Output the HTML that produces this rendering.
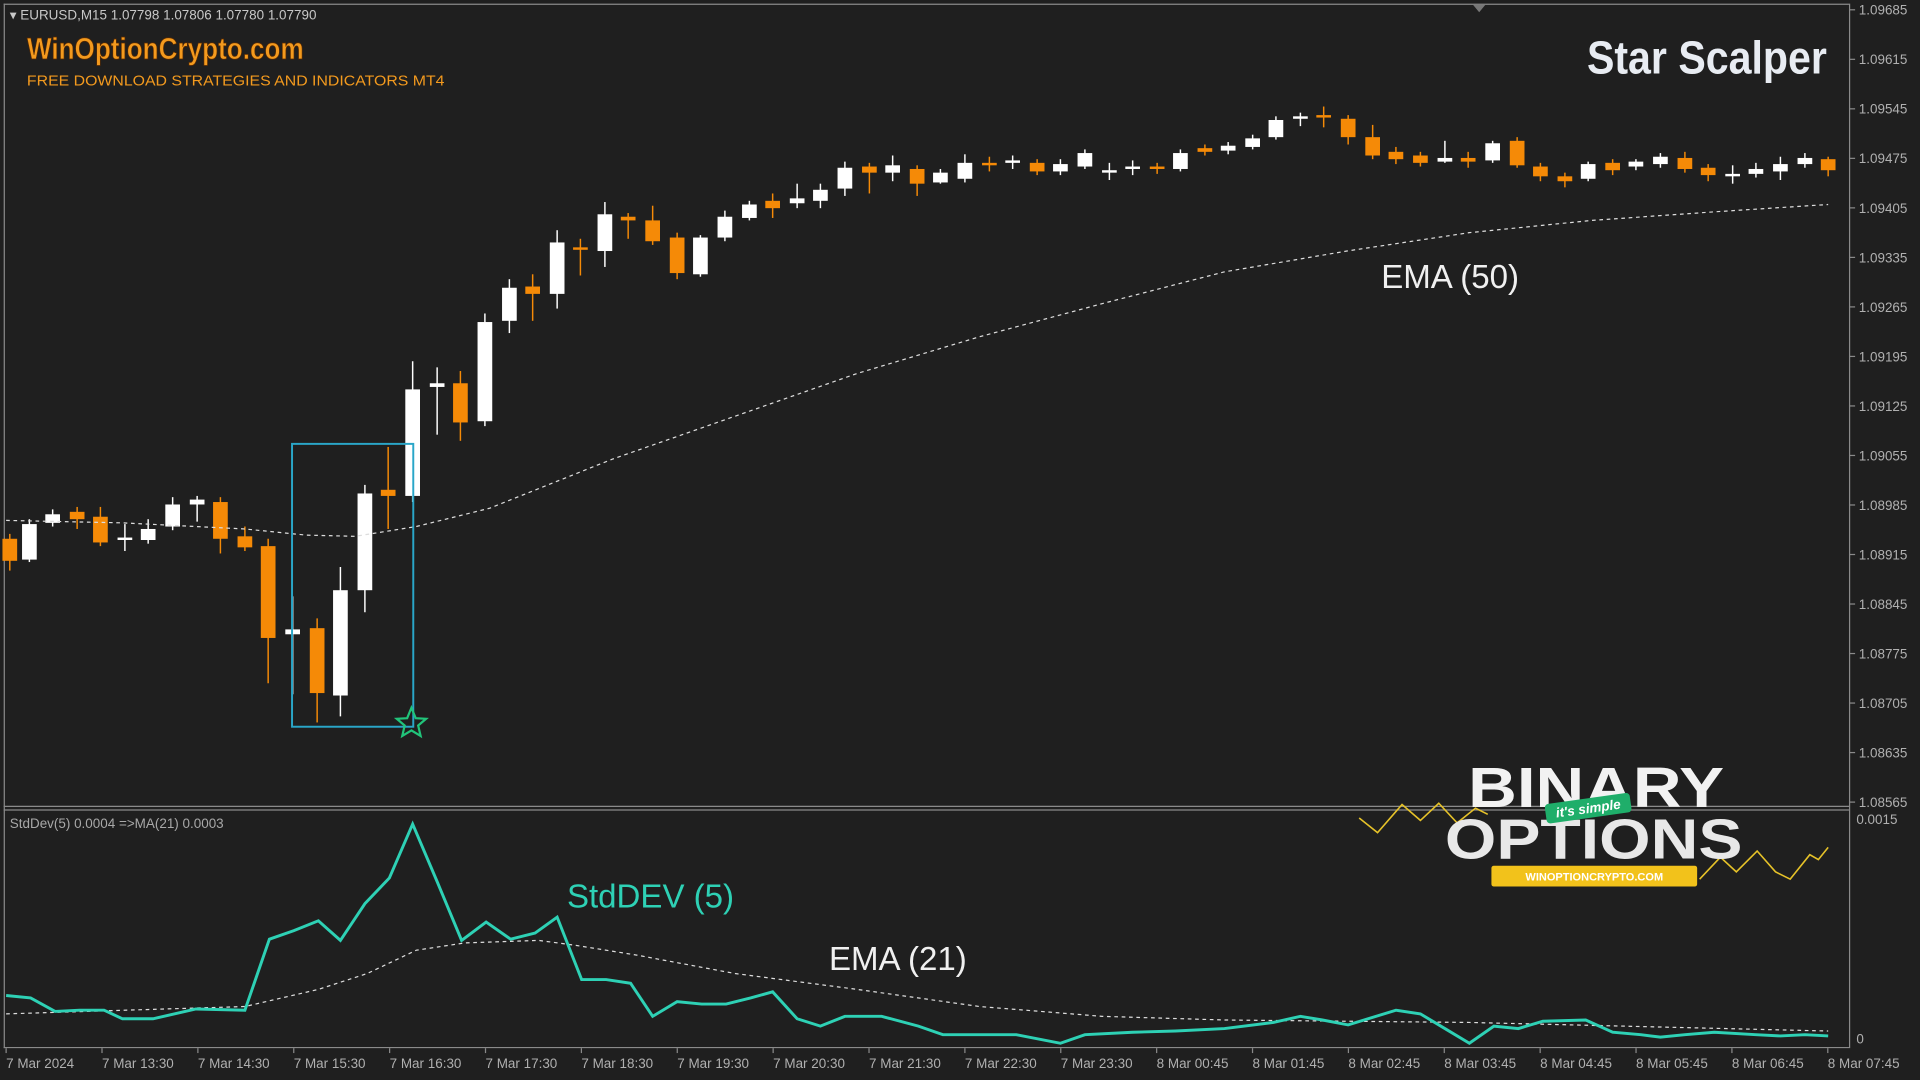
<!DOCTYPE html>
<html><head><meta charset="utf-8"><style>
html,body{margin:0;padding:0;background:#1f1f1f;overflow:hidden}
svg{display:block}
text{font-family:"Liberation Sans",sans-serif}
</style></head><body>
<svg id="s" width="1920" height="1080" viewBox="0 0 1568 882" xmlns="http://www.w3.org/2000/svg">
<rect width="1568" height="882" fill="#1f1f1f"/>
<g stroke="#8a8a8a" stroke-width="1" fill="none">
<line x1="3" y1="3.5" x2="1510" y2="3.5"/>
<line x1="3.5" y1="3" x2="3.5" y2="856"/>
<line x1="1510.5" y1="3" x2="1510.5" y2="856"/>
<line x1="3" y1="658.5" x2="1510" y2="658.5"/>
<line x1="3" y1="661.5" x2="1510" y2="661.5"/>
<line x1="3" y1="855.5" x2="1510" y2="855.5"/>
</g>
<polygon points="1203,4 1213,4 1208,10" fill="#777"/>
<g id="axes" fill="#b0b0b0" font-size="11"></g>
<g id="candles"></g>
<polyline fill="none" stroke="#dddddd" stroke-width="1" stroke-dasharray="3,3" points="5,425 100,427 200,432 250,437 290,438 340,430 400,415 500,375 600,340 700,305 800,275 900,248 1000,222 1100,205 1200,190 1300,180 1400,173 1493,167"/>
<rect x="238.5" y="362.5" width="99" height="231" fill="none" stroke="#2aa6c8" stroke-width="1.6"/>
<polygon points="336,578 339.5,586.5 348,587 341.5,592.5 343.5,601 336,596.5 328.5,601 330.5,592.5 324,587 332.5,586.5" fill="none" stroke="#21c47a" stroke-width="1.8"/>
<polyline fill="none" stroke="#dddddd" stroke-width="1" stroke-dasharray="3,3" points="5,828 200,822 260,808 300,795 340,776 380,770 440,768 470,772 520,780 600,795 700,808 800,822 900,830 1000,833 1200,835 1493,842"/>
<polyline fill="none" stroke="#2ed1b5" stroke-width="2.4" points="5,813 25,815 45,826 65,825 85,825 100,832 125,832 160,824 200,825 220,767 240,760 260,752 278,768 298,738 318,717 337,673 357,720 377,768 397,753 417,767 437,762 455,749 475,800 495,800 515,803 533,830 553,818 573,820 593,820 613,815 631,810 651,832 670,838 690,830 720,830 750,838 770,845 800,845 830,845 866,852 886,845 925,843 960,842 1000,840 1040,835 1062,830 1080,833 1101,837 1140,825 1160,828 1180,840 1200,852 1220,838 1240,840 1260,834 1295,833 1317,843 1340,845 1356,847 1376,845 1400,843 1434,845 1454,846 1474,845 1493,846"/>
<polyline fill="none" stroke="#e6c229" stroke-width="1.3" points="1110,668 1125,680 1145,657 1160,670 1175,656 1190,672 1205,660 1215,665"/>
<polyline fill="none" stroke="#e6c229" stroke-width="1.3" points="1388,718 1405,700 1418,712 1435,695 1450,712 1462,718 1478,698 1485,702 1493,692"/>
<text x="8" y="16" font-size="11" fill="#c8c8c8">▾ EURUSD,M15  1.07798 1.07806 1.07780 1.07790</text>
<text x="8" y="676" font-size="11" fill="#a8a8a8">StdDev(5) 0.0004  =&gt;MA(21) 0.0003</text>
<text x="22" y="48" font-size="25" font-weight="bold" fill="#f39a1e" textLength="226" lengthAdjust="spacingAndGlyphs" stroke="#5a2a00" stroke-width="0.6">WinOptionCrypto.com</text>
<text x="22" y="70" font-size="12" fill="#f39a1e" textLength="341" lengthAdjust="spacingAndGlyphs">FREE DOWNLOAD STRATEGIES AND INDICATORS MT4</text>
<text x="1492" y="60" font-size="38" font-weight="bold" fill="#e8ecf2" text-anchor="end" textLength="196" lengthAdjust="spacingAndGlyphs">Star Scalper</text>
<text x="1128" y="235" font-size="27" fill="#f0f0f0">EMA (50)</text>
<text x="463" y="741" font-size="27" fill="#2ed1b5">StdDEV (5)</text>
<text x="677" y="792" font-size="27" fill="#f0f0f0">EMA (21)</text>
<text x="1199" y="659" font-size="46" font-weight="bold" fill="#f2f2f2" textLength="209" lengthAdjust="spacingAndGlyphs">BINARY</text>
<text x="1180" y="701" font-size="46" font-weight="bold" fill="#e8e8e8" textLength="243" lengthAdjust="spacingAndGlyphs">OPTIONS</text>
<g transform="rotate(-8 1297 660)"><rect x="1262" y="652" width="70" height="16" rx="3" fill="#1fae6a"/><text x="1297" y="664" font-size="11" font-style="italic" font-weight="bold" fill="#fff" text-anchor="middle">it's simple</text></g>
<rect x="1218" y="707" width="168" height="17" rx="2" fill="#f2c21b"/>
<text x="1302" y="719" font-size="9" font-weight="bold" fill="#fff" text-anchor="middle">WINOPTIONCRYPTO.COM</text>
</svg>
<script>
var NS="http://www.w3.org/2000/svg";
function el(p,t,a,txt){var e=document.createElementNS(NS,t);for(var k in a)e.setAttribute(k,a[k]);if(txt)e.textContent=txt;p.appendChild(e);return e;}
var ax=document.getElementById('axes');
var pr=["1.09685","1.09615","1.09545","1.09475","1.09405","1.09335","1.09265","1.09195","1.09125","1.09055","1.08985","1.08915","1.08845","1.08775","1.08705","1.08635","1.08565"];
pr.forEach(function(p,i){var y=8+i*40.44;el(ax,'line',{x1:1510,y1:y,x2:1515,y2:y,stroke:'#8a8a8a'});el(ax,'text',{x:1518,y:y+4},p);});
el(ax,'text',{x:1516,y:673},'0.0015');el(ax,'text',{x:1516,y:852},'0');
var xl=["7 Mar 2024","7 Mar 13:30","7 Mar 14:30","7 Mar 15:30","7 Mar 16:30","7 Mar 17:30","7 Mar 18:30","7 Mar 19:30","7 Mar 20:30","7 Mar 21:30","7 Mar 22:30","7 Mar 23:30","8 Mar 00:45","8 Mar 01:45","8 Mar 02:45","8 Mar 03:45","8 Mar 04:45","8 Mar 05:45","8 Mar 06:45","8 Mar 07:45"];
xl.forEach(function(t,i){var x=5+i*78.3;el(ax,'line',{x1:x,y1:856,x2:x,y2:860,stroke:'#8a8a8a'});el(ax,'text',{x:x,y:872},t);});
// [x, bodyTop, bodyBot, wickTop, wickBot, orange?]
var C=[[8,440,458,436,466,1],[24,428,457,424,459,0],[43,420,427,416,430,0],[63,418,424,414,432,1],[82,422,443,414,446,1],[102,439,441,428,450,0],[121,432,441,424,444,0],[141,412,430,406,433,0],[161,408,412,405,426,0],[180,410,440,406,452,1],[200,438,447,430,450,1],[219,446,521,440,558,1],[239,514,518,487,567,0],[259,513,566,505,590,1],[278,482,568,463,585,0],[298,403,482,396,500,0],[317,400,405,365,432,1],[337,318,405,295,410,0],[357,313,316,300,355,0],[376,313,345,303,360,1],[396,263,344,256,348,0],[416,235,262,228,272,0],[435,234,240,224,262,1],[455,198,240,188,252,0],[474,202,204,195,225,1],[494,175,205,165,218,0],[513,177,180,174,195,1],[533,180,197,168,200,1],[553,194,223,190,228,1],[572,194,224,192,226,0],[592,177,194,172,197,0],[612,167,178,164,180,0],[631,164,170,158,178,1],[651,162,166,150,170,0],[670,155,164,150,170,0],[690,137,154,132,160,0],[710,136,141,133,158,1],[729,135,141,127,148,0],[749,138,150,135,160,1],[768,141,149,138,150,0],[788,133,146,126,149,0],[808,133,135,128,140,1],[827,131,133,127,138,0],[847,133,140,130,143,1],[866,134,140,130,143,0],[886,125,136,122,138,0],[906,139,141,133,147,0],[925,136,138,131,143,0],[945,136,138,133,142,1],[964,125,138,122,140,0],[984,121,124,118,127,1],[1003,119,123,116,126,0],[1023,113,120,110,122,0],[1042,98,112,95,114,0],[1062,95,97,92,103,0],[1081,94,96,87,104,1],[1101,97,112,94,118,1],[1121,112,127,102,130,1],[1140,124,130,120,134,1],[1160,127,133,124,136,1],[1180,129,132,115,133,0],[1199,129,132,124,137,1],[1219,117,131,115,133,0],[1239,115,135,112,137,1],[1258,136,144,133,148,1],[1278,144,148,141,153,1],[1297,134,146,132,148,0],[1317,133,139,130,143,1],[1336,132,136,130,139,0],[1356,128,134,125,137,0],[1376,129,138,124,141,1],[1395,137,143,134,148,1],[1415,142,144,135,150,0],[1434,138,142,133,145,0],[1454,134,140,128,147,0],[1474,129,134,125,137,0],[1493,130,139,128,144,1]];
var g=document.getElementById('candles');
C.forEach(function(c){var col=c[5]?'#f58a07':'#ffffff';
el(g,'line',{x1:c[0],y1:c[3],x2:c[0],y2:c[4],stroke:col,'stroke-width':1.2});
var h=Math.max(c[2]-c[1],2);el(g,'rect',{x:c[0]-6,y:c[1],width:12,height:h,fill:col});});
</script>
</body></html>
